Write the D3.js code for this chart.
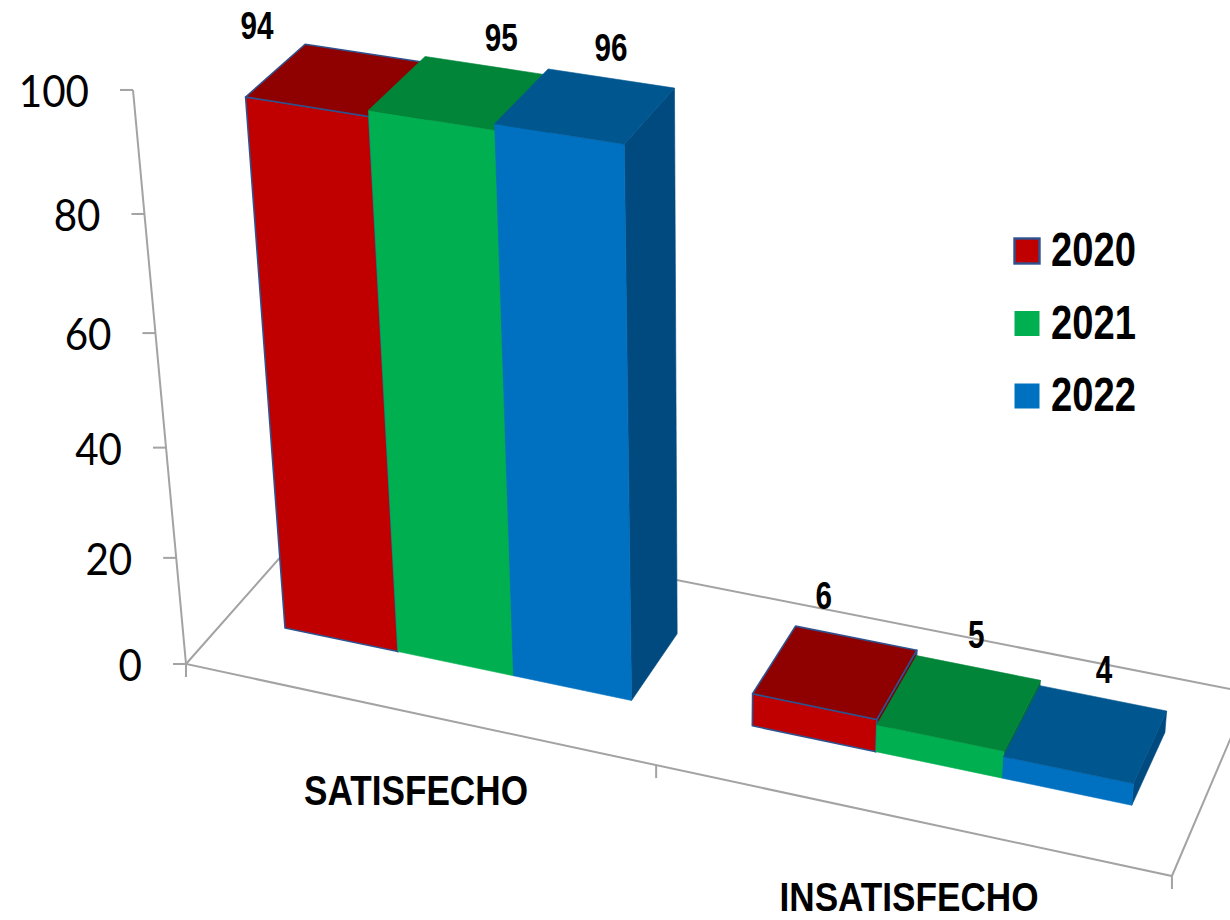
<!DOCTYPE html>
<html>
<head>
<meta charset="utf-8">
<style>
  html, body { margin: 0; padding: 0; background: #fff; }
  svg { display: block; }
  text { fill: #000; }
</style>
<script src="https://cdn.jsdelivr.net/npm/d3@7"></script>
</head>
<body>
<svg id="chart" width="1230" height="920"></svg>
<script>
// Chart values
const categories = ["SATISFECHO", "INSATISFECHO"];
const years = ["2020", "2021", "2022"];
const values2020 = [94, 6];
const values2021 = [95, 5];
const values2022 = [96, 4];
const seriesValues = [values2020, values2021, values2022];
const valueTicks = [0, 20, 40, 60, 80, 100];

// Face colours per series
const frontColors = ["#C00000", "#00B050", "#0070C0"];
const topColors = ["#8F0000", "#008539", "#00568F"];
const sideColors = ["#7A0000", "#00703A", "#004A80"];
const edgeColors = ["#2F528F", null, null];

// Camera: floor homography (unit square to screen) plus a vertical vanishing point
const floorCorners = { a: 882.2, b: 158.5, c: 186, d: 134.45, e: -118.33, f: 664, g: -0.08853, h: 0.06994 };
const verticalVanish = [705, 6285];
const heightGain = -0.09266;

function project(u, w, t) {
  const m = floorCorners;
  const k = heightGain * t;
  const X = m.a * u + m.b * w + m.c + k * verticalVanish[0];
  const Y = m.d * u + m.e * w + m.f + k * verticalVanish[1];
  const T = m.g * u + m.h * w + 1 + k;
  return [X / T, Y / T];
}

// Scales into chart space: category/series along the floor, value upwards, depth backwards
const xCategory = d3.scaleBand().domain(categories).range([0, 1]);
const xSeries = d3.scaleBand().domain(years).range([0, xCategory.bandwidth()]).paddingInner(0).paddingOuter(0.5).align(0.51);
const yValue = d3.scaleLinear().domain([0, 100]).range([0, 1]);
const depth = d3.scaleLinear().domain([0, 1]).range([0.297, 0.70]);

const svg = d3.select("#chart");
const polygon = d3.line();
const closed = pts => polygon(pts) + "Z";

// Frame: wall edge, floor outline and tick marks
const frameColor = "#A3A3A3";
const frame = svg.append("g").attr("fill", "none").attr("stroke", frameColor).attr("stroke-width", 2);
frame.append("path").attr("d", polygon([project(0, 0, yValue(100)), project(0, 0, 0)]));
frame.append("path").attr("d", polygon([project(0, 1, 0), project(0, 0, 0), project(1, 0, 0), project(1, 1, 0), project(0, 1, 0)]));

const tickLen = 13;
const digitWidth = 23.4;
valueTicks.forEach(v => {
  const [x, y] = project(0, 0, yValue(v));
  frame.append("line").attr("x1", x - tickLen).attr("x2", x).attr("y1", y).attr("y2", y);
  svg.append("text")
    .attr("x", x - 44).attr("y", y + 17)
    .attr("text-anchor", "end")
    .attr("font-family", "Lato")
    .attr("font-size", 45)
    .attr("textLength", String(v).length * digitWidth)
    .attr("lengthAdjust", "spacingAndGlyphs")
    .text(v);
});
[0, 0.5, 1].forEach(u => {
  const [x, y] = project(u, 0, 0);
  frame.append("line").attr("x1", x).attr("x2", x).attr("y1", y).attr("y2", y + tickLen);
});

// Bars, painted left to right so each one overlaps its left neighbour
categories.forEach((cat, ci) => {
  years.forEach((yr, si) => {
    const v = seriesValues[si][ci];
    const u0 = xCategory(cat) + xSeries(yr);
    const u1 = u0 + xSeries.bandwidth();
    const w0 = depth(0), w1 = depth(1), t = yValue(v);
    const faces = [
      { pts: [[u1, w0, 0], [u1, w1, 0], [u1, w1, t], [u1, w0, t]], fill: sideColors[si] },
      { pts: [[u0, w0, 0], [u1, w0, 0], [u1, w0, t], [u0, w0, t]], fill: frontColors[si] },
      { pts: [[u0, w0, t], [u1, w0, t], [u1, w1, t], [u0, w1, t]], fill: topColors[si] }
    ];
    const bar = svg.append("g").attr("class", "bar");
    faces.forEach(face => {
      bar.append("path")
        .attr("d", closed(face.pts.map(p => project(p[0], p[1], p[2]))))
        .attr("fill", face.fill)
        .attr("stroke", edgeColors[si] || face.fill)
        .attr("stroke-width", edgeColors[si] ? 1.6 : 0.6)
        .attr("stroke-linejoin", "round");
    });
  });
});

// Condensed bold label helper
function boldLabel(x, y, str, size, width, anchor) {
  return svg.append("text")
    .attr("x", x).attr("y", y)
    .attr("text-anchor", anchor || "middle")
    .attr("font-family", "'Liberation Sans'")
    .attr("font-weight", "bold")
    .attr("font-size", size)
    .attr("textLength", width)
    .attr("lengthAdjust", "spacingAndGlyphs")
    .text(str);
}

// Value labels sit above the back edge of each bar's top, each with its own nudge
const labelNudge = [
  [[-108, -14], [-32, -29]],
  [[15, -15], [-2, -20]],
  [[0, -17], [1, -15]]
];
categories.forEach((cat, ci) => {
  years.forEach((yr, si) => {
    const v = seriesValues[si][ci];
    const uMid = xCategory(cat) + xSeries(yr) + xSeries.bandwidth() / 2;
    const [x, y] = project(uMid, depth(1), yValue(v));
    const [dx, dy] = labelNudge[si][ci];
    boldLabel(x + dx, y + dy, String(v), 38, String(v).length * 16.5);
  });
});

// Category labels under the floor
const categoryLabels = [
  { x: 416, y: 805, size: 43, width: 224 },
  { x: 909, y: 911, size: 41, width: 259 }
];
categories.forEach((cat, ci) => {
  const box = categoryLabels[ci];
  boldLabel(box.x, box.y, cat, box.size, box.width);
});

// Legend
const legendRows = d3.scalePoint().domain(years).range([251, 396]);
years.forEach((yr, si) => {
  const cy = legendRows(yr);
  svg.append("rect")
    .attr("x", 1014.5).attr("y", cy - 12.5)
    .attr("width", 25).attr("height", 25)
    .attr("fill", frontColors[si])
    .attr("stroke", edgeColors[si] || "none")
    .attr("stroke-width", 2.4);
  boldLabel(1051, cy + 15, yr, 49, 85, "start");
});
</script>
</body>
</html>
